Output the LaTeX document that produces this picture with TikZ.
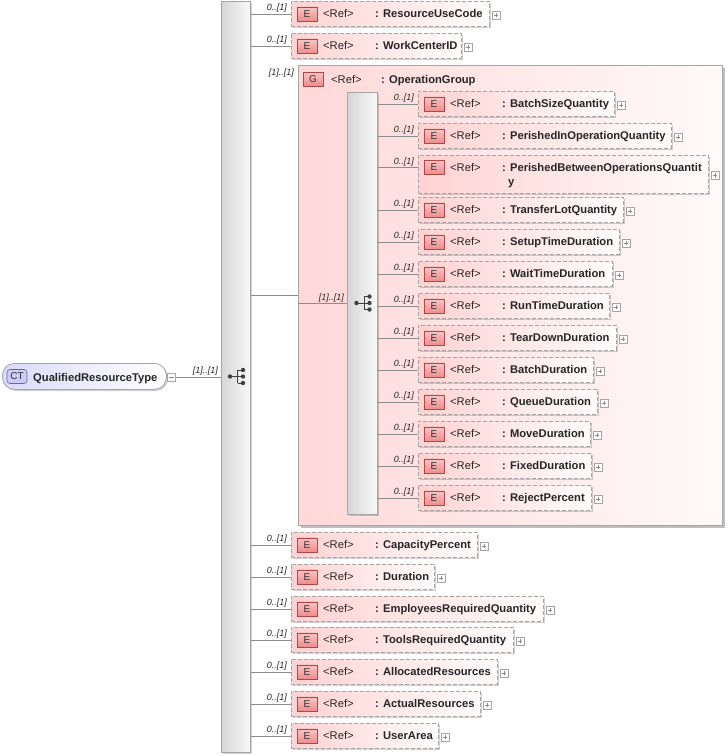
\documentclass[tikz,border=0pt]{standalone}
\usepackage{fontspec}
\setmainfont{Liberation Sans}
\usetikzlibrary{calc,shadows}
\definecolor{conncol}{RGB}{140,140,140}
\definecolor{dashcol}{RGB}{165,165,165}
\definecolor{pinkL}{RGB}{255,210,210}
\definecolor{pinkR}{RGB}{255,252,252}
\definecolor{badgeT}{RGB}{250,196,196}
\definecolor{badgeB}{RGB}{238,140,140}
\definecolor{badgeD}{RGB}{176,70,70}
\definecolor{barL}{RGB}{214,214,214}
\definecolor{barR}{RGB}{249,249,249}
\definecolor{barD}{RGB}{165,165,165}
\definecolor{ctF}{RGB}{204,204,246}
\definecolor{ctD}{RGB}{100,100,180}
\definecolor{rootL}{RGB}{218,218,250}
\definecolor{grpL}{RGB}{255,216,216}
\definecolor{grpR}{RGB}{255,250,250}
\tikzset{
  shad/.style={drop shadow={shadow xshift=1.6pt, shadow yshift=-1.6pt, fill=black, opacity=0.18}},
  elbox/.style={draw=dashcol, dash pattern=on 4pt off 2pt, line width=0.8pt, left color=pinkL, right color=pinkR, inner sep=0, shad},
  ebadge/.style={draw=badgeD, line width=0.6pt, top color=badgeT, bottom color=badgeB, minimum width=20pt, minimum height=14pt, inner sep=0, font=\fontsize{10}{12}\selectfont, text=black!80},
  reftext/.style={font=\fontsize{11.2}{13}\selectfont, inner sep=0, text=black!85},
  nametext/.style={font=\fontsize{11.2}{13}\selectfont\bfseries, inner sep=0, text=black!85},
  card/.style={font=\fontsize{9}{10}\selectfont\itshape, inner sep=0, text=black!85},
  conn/.style={draw=conncol, line width=0.8pt},
  barbox/.style={draw=barD, line width=0.8pt, left color=barL, right color=barR, inner sep=0, shad},
  grpbox/.style={draw=barD, line width=0.8pt, left color=grpL, right color=grpR, inner sep=0,
     drop shadow={shadow xshift=2.4pt, shadow yshift=-2.4pt, fill=black, opacity=0.25}},
  rootbox/.style={draw=barD, line width=0.8pt, left color=rootL, right color=white, inner sep=0, rounded corners=12pt, shad},
  ctbadge/.style={draw=ctD, line width=0.6pt, fill=ctF, rounded corners=3pt, minimum width=20pt, minimum height=14pt, inner sep=0, font=\fontsize{10}{12}\selectfont, text=black!80},
  plusbox/.style={draw=dashcol, fill=white, minimum size=8pt, inner sep=0, line width=0.6pt,
     path picture={\draw[conncol, line width=0.6pt]
       ($(path picture bounding box.west)+(1.8pt,0)$) -- ($(path picture bounding box.east)+(-1.8pt,0)$)
       ($(path picture bounding box.north)+(0,-1.8pt)$) -- ($(path picture bounding box.south)+(0,1.8pt)$);}},
  minusbox/.style={draw=dashcol, fill=white, minimum size=8pt, inner sep=0, line width=0.6pt,
     path picture={\draw[conncol, line width=0.6pt]
       ($(path picture bounding box.west)+(1.8pt,0)$) -- ($(path picture bounding box.east)+(-1.8pt,0)$);}},
}
% #1 name, #2 bar, #3 left, #4 top, #5 right, #6 label
\newcommand\xel[6]{%
  \node[elbox, anchor=north west, minimum width={#5-#3}, minimum height=25] (#1) at (#3,#4) {};
  \node[ebadge] (#1-b) at ($(#1.west)+(16,0)$) {E};
  \node[reftext, anchor=base west] (#1-r) at ($(#1.west)+(32,4)$) {<Ref>};
  \node[nametext, anchor=base west] (#1-n) at ($(#1.west)+(84,4)$) {: #6};
  \node[plusbox] (#1-p) at ($(#1.east)+(6,1)$) {};
  \draw[conn] (#2.east |- #1.west) -- (#1.west);
  \node[card, anchor=base east] (#1-c) at ($(#1.west)+(-4,-3)$) {0..[1]};
}
% sequence icon
\newcommand\seqicon[2]{%
  \fill[black!75] (#1-5.5,#2) circle (2.2);
  \draw[black!75, line width=1pt] (#1-5.5,#2) -- (#1+2,#2)
     (#1+2,#2-6.5) -- (#1+2,#2+6.5)
     (#1+2,#2-6.5) -- (#1+7.5,#2-6.5)
     (#1+2,#2+6.5) -- (#1+7.5,#2+6.5)
     (#1+2,#2) -- (#1+7.5,#2);
  \fill[black!75] (#1+7.5,#2-6.5) circle (2.2) (#1+7.5,#2) circle (2.2) (#1+7.5,#2+6.5) circle (2.2);
}
\begin{document}
\begin{tikzpicture}[x=1pt,y=-1pt]
\useasboundingbox[fill=white] (0,0) rectangle (728,756);
% main bar
\node[barbox, anchor=north west, minimum width=29, minimum height=751] (mbar) at (221,1) {};
\seqicon{235.5}{376.5}
% root
\node[rootbox, anchor=north west, minimum width=164, minimum height=26] (root) at (2,363) {};
\node[ctbadge] (ct) at (17,376.5) {CT};
\node[nametext, anchor=base west] (rootname) at (33,381) {QualifiedResourceType};
\node[minusbox] (rootm) at (171.5,377) {};
\draw[conn] (rootm.east) -- (rootm.east -| mbar.west);
\node[card, anchor=base east] (rootc) at (218,373) {[1]..[1]};
% outer elements
\xel{o1}{mbar}{291}{1}{489}{ResourceUseCode}
\xel{o2}{mbar}{291}{33}{461}{WorkCenterID}
% group
\node[grpbox, anchor=north west, minimum width=424, minimum height=460] (grp) at (298,65) {};
\draw[conn] (mbar.east |- grp.west) -- (grp.west);
\node[card, anchor=base east] (grpc) at (294,75) {[1]..[1]};
\node[ebadge] (grpb) at (313,79) {G};
\node[reftext, anchor=base west] (grpr) at (331,83) {<Ref>};
\node[nametext, anchor=base west] (grpn) at (381,83) {: OperationGroup};
% inner bar
\node[barbox, anchor=north west, minimum width=30, minimum height=422] (ibar) at (347,92) {};
\seqicon{362}{303}
\draw[conn] (grp.west |- ibar.west) -- (ibar.west);
\node[card, anchor=base east] (ibarc) at ($(ibar.west)+(-3,-3)$) {[1]..[1]};
% inner elements
\xel{i1}{ibar}{418}{91}{614}{BatchSizeQuantity}
\xel{i2}{ibar}{418}{123}{671}{PerishedInOperationQuantity}
% two-line element
\node[elbox, anchor=north west, minimum width=290, minimum height=38] (i3) at (418,155) {};
\coordinate (i3a) at ($(i3.north west)+(0,12)$);
\node[ebadge] (i3-b) at ($(i3a)+(16,0)$) {E};
\node[reftext, anchor=base west] (i3-r) at ($(i3a)+(32,4)$) {<Ref>};
\node[nametext, anchor=base west] (i3-n) at ($(i3a)+(84,4)$) {: PerishedBetweenOperationsQuantit};
\node[nametext, anchor=base west] (i3-n2) at ($(i3a)+(90,18)$) {y};
\node[plusbox] (i3-p) at ($(i3.east)+(6,1)$) {};
\draw[conn] (ibar.east |- i3a) -- (i3a);
\node[card, anchor=base east] (i3-c) at ($(i3a)+(-4,-3)$) {0..[1]};
\xel{i4}{ibar}{418}{197}{623}{TransferLotQuantity}
\xel{i5}{ibar}{418}{229}{619}{SetupTimeDuration}
\xel{i6}{ibar}{418}{261}{612}{WaitTimeDuration}
\xel{i7}{ibar}{418}{293}{609}{RunTimeDuration}
\xel{i8}{ibar}{418}{325}{616}{TearDownDuration}
\xel{i9}{ibar}{418}{357}{593}{BatchDuration}
\xel{i10}{ibar}{418}{389}{597}{QueueDuration}
\xel{i11}{ibar}{418}{421}{590}{MoveDuration}
\xel{i12}{ibar}{418}{453}{591}{FixedDuration}
\xel{i13}{ibar}{418}{485}{591}{RejectPercent}
% outer elements after group
\xel{o3}{mbar}{291}{532}{477}{CapacityPercent}
\xel{o4}{mbar}{291}{564}{434}{Duration}
\xel{o5}{mbar}{291}{596}{543}{EmployeesRequiredQuantity}
\xel{o6}{mbar}{291}{627}{513}{ToolsRequiredQuantity}
\xel{o7}{mbar}{291}{659}{497}{AllocatedResources}
\xel{o8}{mbar}{291}{691}{480}{ActualResources}
\xel{o9}{mbar}{291}{723}{438}{UserArea}
\end{tikzpicture}
\end{document}
